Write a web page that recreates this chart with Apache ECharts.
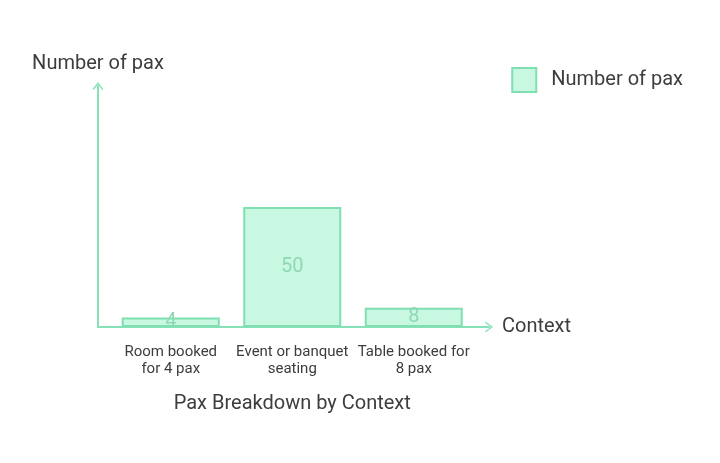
<!DOCTYPE html>
<html>
<head>
<meta charset="utf-8">
<script src="https://cdn.jsdelivr.net/npm/echarts@6/dist/echarts.min.js"></script>
<style>
	html, body { margin: 0; padding: 0; background: #fff; }
	#chart { width: 720px; height: 463px; }
</style>
</head>
<body>
<div id="chart"></div>
<script>
// Datos del gráfico
const categorias = ['Room booked\nfor 4 pax', 'Event or banquet\nseating', 'Table booked for\n8 pax']
const pax = [4, 50, 8]
const nombreSerie = 'Number of pax'
const nombreEjeX = 'Context'
const tituloEjeX = 'Pax Breakdown by Context'

const verde = '#84e2b6'
const textoGris = '#3d3d3d'
// flecha abierta tipo ">" apuntando hacia arriba
const flecha = 'path://M0,8 L6,0 L12,8 L10.8,9 L6,2.4 L1.2,9 Z'

const chart = echarts.init(document.getElementById('chart'))

chart.setOption({
	backgroundColor: '#fff',
	textStyle: { fontFamily: 'Roboto' },
	legend: {
		top: 62,
		right: 32,
		icon: 'rect',
		itemWidth: 24,
		itemHeight: 24,
		textStyle: {
			fontSize: 20,
			color: textoGris,
			fontFamily: 'Roboto',
			padding: [0, 0, 0, 10],
		},
		data: [nombreSerie],
	},
	grid: [
		// grid 0: solo las líneas de los ejes con flechas
		{ left: 98, right: 231, top: 86, bottom: 136 },
		// grid 1: las barras
		{ left: 110, width: 364.5, top: 87, bottom: 136 },
	],
	xAxis: [
		{
			gridIndex: 0,
			type: 'value',
			min: 0,
			max: 1,
			name: nombreEjeX,
			nameLocation: 'end',
			nameGap: 13,
			nameTextStyle: { fontSize: 20, color: textoGris, padding: [8, 0, 0, 0] },
			axisLine: {
				show: true,
				lineStyle: { color: verde, width: 2 },
				symbol: ['none', flecha],
				symbolSize: [12, 8],
			},
			axisTick: { show: false },
			axisLabel: { show: false },
			splitLine: { show: false },
		},
		{
			gridIndex: 1,
			type: 'category',
			data: categorias,
			name: tituloEjeX,
			nameLocation: 'middle',
			nameGap: 67,
			nameTextStyle: { fontSize: 20, color: textoGris, verticalAlign: 'top' },
			axisLine: { show: false },
			axisTick: { show: false },
			axisLabel: {
				interval: 0,
				margin: 17,
				fontSize: 15,
				lineHeight: 17,
				color: textoGris,
			},
		},
	],
	yAxis: [
		{
			gridIndex: 0,
			type: 'value',
			min: 0,
			max: 1,
			name: nombreSerie,
			nameLocation: 'end',
			nameGap: 12,
			nameTextStyle: { fontSize: 20, color: textoGris },
			axisLine: {
				show: true,
				lineStyle: { color: verde, width: 2 },
				symbol: ['none', flecha],
				symbolSize: [12, 8],
			},
			axisTick: { show: false },
			axisLabel: { show: false },
			splitLine: { show: false },
		},
		{
			gridIndex: 1,
			type: 'value',
			min: 0,
			max: 100,
			show: false,
		},
	],
	series: [
		{
			name: nombreSerie,
			type: 'bar',
			xAxisIndex: 1,
			yAxisIndex: 1,
			data: pax,
			barWidth: 98,
			itemStyle: {
				color: '#c8f8e2',
				borderColor: '#7fdfb1',
				borderWidth: 2,
			},
			label: {
				show: true,
				position: 'inside',
				fontSize: 20,
				color: '#8ed8b3',
				padding: [4, 0, 0, 0],
			},
		},
	],
})
</script>
</body>
</html>
